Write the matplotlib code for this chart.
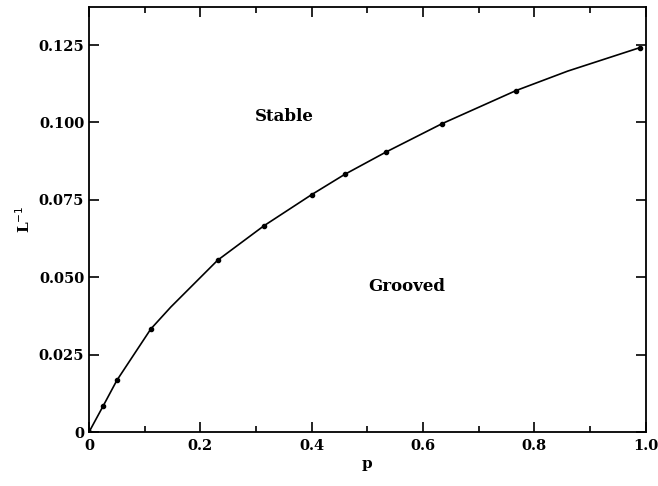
import matplotlib
matplotlib.use("Agg")
import matplotlib.pyplot as plt
from matplotlib.ticker import MultipleLocator, FixedFormatter, FixedLocator

# marked data points (p, 1/L)
p_pts = [0.0, 0.025, 0.050, 0.111, 0.231, 0.314, 0.400, 0.459, 0.534, 0.634, 0.767, 0.990]
inv_L = [0.0, 0.0083, 0.0167, 0.0333, 0.0555, 0.0666, 0.0767, 0.0832, 0.0905, 0.0996, 0.1103, 0.1242]

# line passes through a couple of extra unmarked points
p_line = [0.0, 0.025, 0.050, 0.111, 0.147, 0.231, 0.314, 0.400, 0.459, 0.534, 0.634, 0.767, 0.860, 0.990]
L_line = [0.0, 0.0083, 0.0167, 0.0333, 0.0404, 0.0555, 0.0666, 0.0767, 0.0832, 0.0905, 0.0996, 0.1103, 0.1166, 0.1242]

xticks = [0, 0.2, 0.4, 0.6, 0.8, 1.0]
xlabels = ["0", "0.2", "0.4", "0.6", "0.8", "1.0"]
yticks = [0, 0.025, 0.050, 0.075, 0.100, 0.125]
ylabels = ["0", "0.025", "0.050", "0.075", "0.100", "0.125"]

plt.rcParams['font.family'] = ['DejaVu Serif']
fig = plt.figure(figsize=(6.58, 4.86), dpi=100)
ax = fig.add_axes([0.1353, 0.111, 0.846, 0.8746])

ax.plot(p_line, L_line, color='black', lw=1.2)
ax.plot(p_pts, inv_L, 'o', color='black', ms=3)

ax.set_xlim(0, 1.0)
ax.set_ylim(0, 0.1373)

ax.xaxis.set_major_locator(FixedLocator(xticks))
ax.xaxis.set_major_formatter(FixedFormatter(xlabels))
ax.xaxis.set_minor_locator(MultipleLocator(0.1))
ax.yaxis.set_major_locator(FixedLocator(yticks))
ax.yaxis.set_major_formatter(FixedFormatter(ylabels))

ax.tick_params(which='both', direction='in', top=True, right=True, width=1.2)
ax.tick_params(which='major', length=7, labelsize=10.5)
ax.tick_params(which='minor', length=4)
ax.tick_params(axis='x', pad=5)
for lab in ax.get_xticklabels() + ax.get_yticklabels():
    lab.set_fontweight('bold')
for s in ax.spines.values():
    s.set_linewidth(1.3)

ax.set_xlabel('p', fontsize=11, fontweight='bold', labelpad=3)
ax.set_ylabel('L$^{-1}$', fontsize=11, fontweight='bold')

ax.text(0.35, 0.102, 'Stable', fontsize=12, fontweight='bold', ha='center', va='center')
ax.text(0.57, 0.047, 'Grooved', fontsize=12, fontweight='bold', ha='center', va='center')

fig.savefig('out.png', dpi=100)
